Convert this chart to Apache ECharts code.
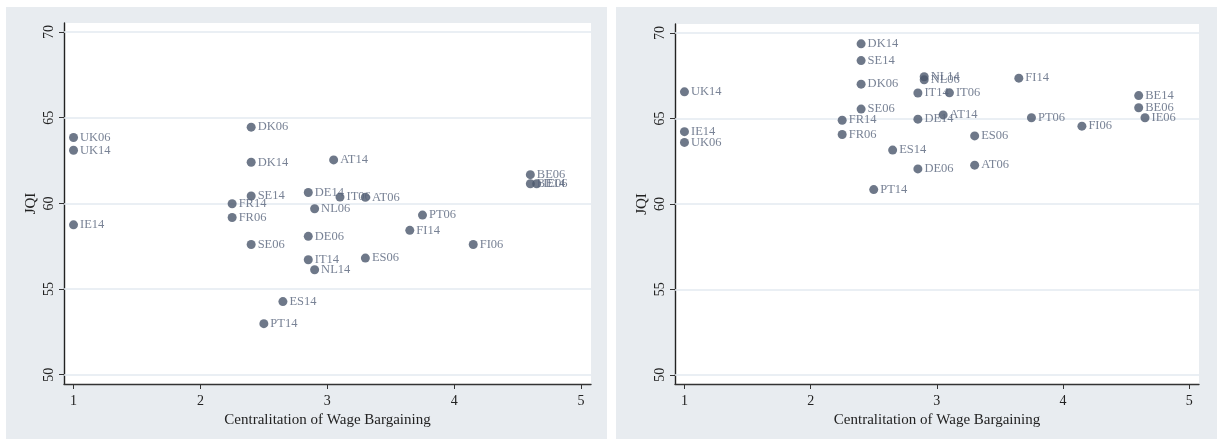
<!DOCTYPE html>
<html>
<head>
<meta charset="utf-8">
<script src="https://cdn.jsdelivr.net/npm/echarts@6/dist/echarts.min.js"></script>
<style>
  html, body { margin: 0; padding: 0; background: #ffffff; }
  #chart { width: 1219px; height: 443px; }
</style>
</head>
<body>
<div id="chart"></div>
<script>
// Tick labels shared by both panels
const xTicks = [1, 2, 3, 4, 5];
const yTicks = [50, 55, 60, 65, 70];

// Left panel: JQI against centralisation of wage bargaining
const labelsLeft = ['UK06','UK14','IE14','DK06','DK14','SE14','SE06','FR14','FR06','DE14','IT06','AT06','AT14','NL06','DE06','IT14','NL14','ES06','ES14','PT14','PT06','FI14','FI06','BE06','BE14','IE06'];
const xLeft = [1, 1, 1, 2.4, 2.4, 2.4, 2.4, 2.25, 2.25, 2.85, 3.1, 3.3, 3.05, 2.9, 2.85, 2.85, 2.9, 3.3, 2.65, 2.5, 3.75, 3.65, 4.15, 4.6, 4.6, 4.65];
const yLeft = [63.85, 63.1, 58.75, 64.45, 62.4, 60.43, 57.6, 59.98, 59.18, 60.64, 60.37, 60.36, 62.54, 59.69, 58.08, 56.71, 56.13, 56.81, 54.27, 52.98, 59.32, 58.43, 57.6, 61.68, 61.15, 61.15];

// Right panel
const labelsRight = ['UK14','IE14','UK06','DK14','SE14','DK06','SE06','FR14','FR06','NL14','NL06','IT14','IT06','FI14','AT14','DE14','PT06','FI06','ES06','ES14','DE06','AT06','PT14','BE14','BE06','IE06'];
const xRight = [1, 1, 1, 2.4, 2.4, 2.4, 2.4, 2.25, 2.25, 2.9, 2.9, 2.85, 3.1, 3.65, 3.05, 2.85, 3.75, 4.15, 3.3, 2.65, 2.85, 3.3, 2.5, 4.6, 4.6, 4.65];
const yRight = [66.56, 64.23, 63.6, 69.37, 68.39, 67.01, 65.55, 64.9, 64.06, 67.44, 67.26, 66.49, 66.5, 67.36, 65.21, 64.96, 65.04, 64.55, 63.98, 63.15, 62.05, 62.27, 60.84, 66.34, 65.63, 65.04];

const SERIF = "'Liberation Serif', 'Times New Roman', 'DejaVu Serif', serif";
const MARKER = '#4a566b';
const LABEL = '#56637a';
const GRIDLINE = '#e3eaf0';
const PANEL = '#e8ecf0';

function points(labels, xs, ys) {
  return labels.map((name, i) => ({ name: name, value: [xs[i], ys[i]] }));
}

function xAxisFor(gridIndex) {
  return {
    type: 'value', gridIndex: gridIndex,
    min: 0.925, max: 5.078,
    name: 'Centralitation of Wage Bargaining',
    nameLocation: 'middle', nameGap: 21,
    nameTextStyle: { fontFamily: SERIF, fontSize: 15, color: '#222' },
    axisLine: { show: true, onZero: false, lineStyle: { color: '#333', width: 1.4 } },
    axisTick: { show: true, length: 5, customValues: xTicks, lineStyle: { color: '#333', width: 1 } },
    axisLabel: { customValues: xTicks, fontFamily: SERIF, fontSize: 14, color: '#222', margin: 10 },
    splitLine: { show: false }
  };
}

function yAxisFor(gridIndex) {
  return {
    type: 'value', gridIndex: gridIndex,
    min: 49.46, max: 70.53,
    name: 'JQI',
    nameLocation: 'middle', nameGap: 25, nameRotate: 90,
    nameTextStyle: { fontFamily: SERIF, fontSize: 15, color: '#222' },
    axisLine: { show: true, onZero: false, lineStyle: { color: '#222', width: 1.4 } },
    axisTick: { show: true, length: 5, customValues: yTicks, lineStyle: { color: '#333', width: 1 } },
    axisLabel: { customValues: yTicks, rotate: 90, fontFamily: SERIF, fontSize: 14, color: '#222', margin: 8 },
    splitLine: { show: false }
  };
}

// Horizontal reference lines at each y tick, kept underneath the points
function gridLines(axisIndex) {
  return {
    type: 'line', xAxisIndex: axisIndex, yAxisIndex: axisIndex,
    data: [], silent: true, z: 1,
    markLine: {
      z: 1,
      silent: true, symbol: 'none',
      label: { show: false },
      lineStyle: { color: GRIDLINE, width: 1.5, type: 'solid' },
      emphasis: { disabled: true },
      data: yTicks.map(v => ({ yAxis: v }))
    }
  };
}

function scatterFor(axisIndex, data) {
  return {
    type: 'scatter', xAxisIndex: axisIndex, yAxisIndex: axisIndex,
    data: data, z: 3,
    symbol: 'circle', symbolSize: 9,
    itemStyle: { color: MARKER },
    label: {
      show: true, position: 'right', distance: 2,
      formatter: p => p.name,
      fontFamily: SERIF, fontSize: 12.5, color: LABEL
    },
    emphasis: { disabled: true }
  };
}

const chart = echarts.init(document.getElementById('chart'), null, { renderer: 'canvas' });
chart.setOption({
  animation: false,
  backgroundColor: '#ffffff',
  graphic: [
    { type: 'rect', z: -10, shape: { x: 6, y: 7, width: 601, height: 432 }, style: { fill: PANEL } },
    { type: 'rect', z: -10, shape: { x: 616, y: 7, width: 601, height: 432 }, style: { fill: PANEL } }
  ],
  grid: [
    { left: 64, top: 23, width: 527, height: 361, show: true, backgroundColor: '#ffffff', borderWidth: 0 },
    { left: 675, top: 24, width: 524, height: 360, show: true, backgroundColor: '#ffffff', borderWidth: 0 }
  ],
  xAxis: [xAxisFor(0), xAxisFor(1)],
  yAxis: [yAxisFor(0), yAxisFor(1)],
  series: [
    gridLines(0),
    gridLines(1),
    scatterFor(0, points(labelsLeft, xLeft, yLeft)),
    scatterFor(1, points(labelsRight, xRight, yRight))
  ]
});
</script>
</body>
</html>
